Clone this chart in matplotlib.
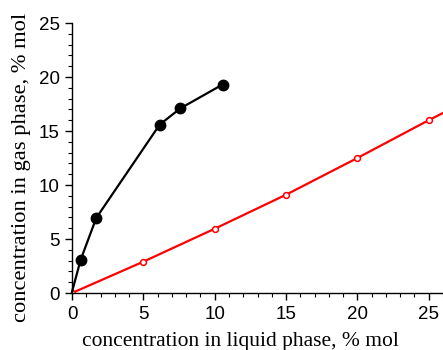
import matplotlib
matplotlib.use("Agg")
import matplotlib.pyplot as plt
from matplotlib.ticker import MultipleLocator

# Data
gas_x = [0.0, 0.6, 1.7, 6.15, 7.6, 10.55]
gas_y = [0.1, 3.05, 6.95, 15.6, 17.1, 19.3]

ideal_x = [0.0, 5.0, 10.0, 15.0, 20.0, 25.0, 26.5]
ideal_y = [0.0, 2.9, 5.95, 9.1, 12.5, 16.0, 17.0]

x_ticks = [0, 5, 10, 15, 20, 25]
y_ticks = [0, 5, 10, 15, 20, 25]

fig = plt.figure(figsize=(4.43, 3.5), dpi=100)
ax = fig.add_axes([72/443, 1-293/350, 1-72/443, (293-23)/350])

ax.plot(ideal_x, ideal_y, color='red', lw=1.6, marker='o', ms=4.2,
        mfc='white', mec='red', mew=1.1, markevery=list(range(6)), zorder=2)
ax.plot(gas_x, gas_y, color='black', lw=1.6, marker='o', ms=7.5,
        mfc='black', mec='black', markevery=list(range(1, 6)), zorder=3,
        clip_on=False)

ax.set_xlim(0, 26)
ax.set_ylim(0, 25)
ax.set_xticks(x_ticks)
ax.set_yticks(y_ticks)
ax.xaxis.set_minor_locator(MultipleLocator(1))
ax.yaxis.set_minor_locator(MultipleLocator(1))
for s in ['top', 'right']:
    ax.spines[s].set_visible(False)
for s in ['left', 'bottom']:
    ax.spines[s].set_linewidth(1.0)
ax.tick_params(which='major', direction='out', length=5, width=1.0,
               labelsize=13.5)
ax.tick_params(axis='x', which='major', pad=4.5)
ax.tick_params(axis='y', which='major', pad=4)
ax.tick_params(which='minor', direction='out', length=3, width=0.8)
for lab in ax.get_xticklabels() + ax.get_yticklabels():
    lab.set_family('Liberation Sans')

ax.set_xlabel('concentration in liquid phase, % mol', family='Liberation Serif',
              fontsize=15.5, va='baseline')
ax.xaxis.set_label_coords(240.4/443, 4/350, transform=fig.transFigure)
ax.set_ylabel('concentration in gas phase, % mol', family='Liberation Serif',
              fontsize=16.2, va='baseline')
ax.yaxis.set_label_coords(26/443, 1-167.5/350, transform=fig.transFigure)

fig.savefig('out.png', dpi=100)
